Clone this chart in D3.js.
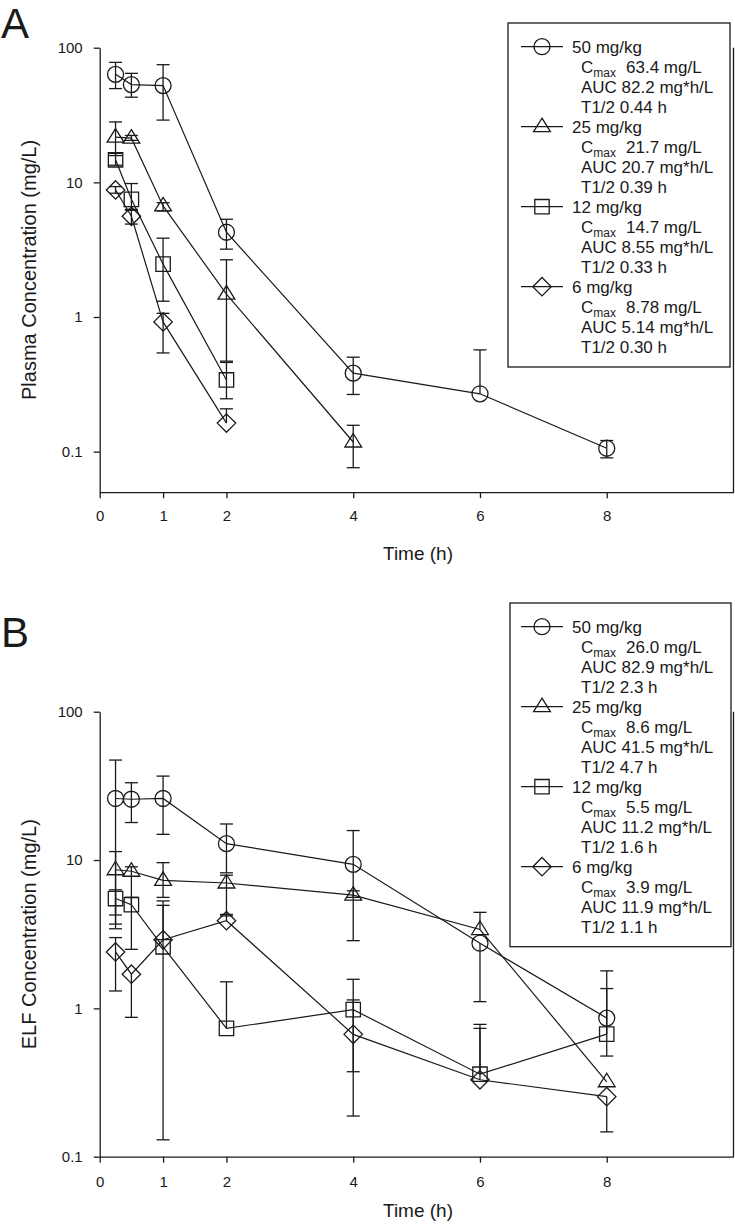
<!DOCTYPE html>
<html>
<head>
<meta charset="utf-8">
<script src="https://d3js.org/d3.v7.min.js"></script>
<style>
body { margin: 0; background: #fff; }
svg text { font-family: "Liberation Sans", Arial, sans-serif; fill: #1a1a1a; }
</style>
</head>
<body>
<div id="chart"></div>
<script>

var times = [0.25, 0.5, 1, 2, 4, 6, 8];
var xTicks = [0, 1, 2, 4, 6, 8];
var doses = ['50 mg/kg', '25 mg/kg', '12 mg/kg', '6 mg/kg'];
var shapes = ['circle', 'triangle', 'square', 'diamond'];

// panel A - plasma, one row per dose (50, 25, 12, 6 mg/kg)
var plasmaYTicks = [100, 10, 1, 0.1];
var plasmaMean = [
    [63.4, 53.2, 52.3, 4.26, 0.383, 0.269, 0.106],
    [21.7, 21.3, 6.68, 1.48, 0.118, null, null],
    [14.7, 7.48, 2.47, 0.341, null, null, null],
    [8.78, 5.6, 0.92, 0.163, null, null, null]
];
var plasmaHi = [
    [77.8, 64.5, 74.8, 5.32, 0.503, 0.57, 0.121],
    [28.1, 22.3, 7.06, 2.66, 0.157, null, null],
    [16.4, 9.8, 3.85, 0.46, null, null, null],
    [9.3, 6.3, 1.065, 0.208, null, null, null]
];
var plasmaLo = [
    [49.7, 42.9, 29.0, 3.19, 0.266, null, 0.090],
    [15.8, 20.5, 6.13, 0.47, 0.076, null, null],
    [13.4, 6.2, 1.31, 0.247, null, null, null],
    [8.3, 4.9, 0.541, null, null, null, null]
];
var plasmaCmax = ['63.4 mg/L', '21.7 mg/L', '14.7 mg/L', '8.78 mg/L'];
var plasmaAuc = ['82.2', '20.7', '8.55', '5.14'];
var plasmaHalf = ['0.44', '0.39', '0.33', '0.30'];

// panel B - ELF
var elfYTicks = [100, 10, 1, 0.1];
var elfMean = [
    [26.0, 25.7, 26.0, 12.9, 9.35, 2.75, 0.86],
    [8.6, 8.4, 7.3, 7.0, 5.8, 3.4, 0.32],
    [5.5, 5.0, 2.6, 0.733, 0.98, 0.36, 0.67],
    [2.4, 1.7, 2.9, 3.9, 0.668, 0.33, 0.254]
];
var elfHi = [
    [47.2, 33.2, 36.8, 17.5, 15.8, null, 1.79],
    [11.4, 9.0, 9.6, 7.9, 6.2, 4.44, null],
    [6.3, 5.6, 5.3, 1.51, 1.57, 0.78, 1.36],
    [3.0, null, 4.95, 4.3, 1.14, 0.733, null]
];
var elfLo = [
    [4.26, 17.9, 14.9, 8.2, 5.6, 1.11, 0.477],
    [3.7, 2.5, 5.6, 4.2, 2.86, null, null],
    [3.44, null, 0.13, null, 0.374, null, null],
    [1.31, 0.87, null, null, 0.188, null, 0.147]
];
var elfCmax = ['26.0 mg/L', '8.6 mg/L', '5.5 mg/L', '3.9 mg/L'];
var elfAuc = ['82.9', '41.5', '11.2', '11.9'];
var elfHalf = ['2.3', '4.7', '1.6', '1.1'];

var ink = '#1a1a1a';

var svg = d3.select('#chart')
    .append('svg')
    .attr('width', 735)
    .attr('height', 1231);

var panels = [
    {tag: 'A', tagY: 38, mean: plasmaMean, hi: plasmaHi, lo: plasmaLo, yTicks: plasmaYTicks,
     yDomain: [0.05, 100], yRange: [492.2, 47.7], yTitle: 'Plasma Concentration (mg/L)',
     tickPad: 12, titleY: 560, cmax: plasmaCmax, auc: plasmaAuc, half: plasmaHalf,
     box: [508, 23, 730, 367], row0: 46.7},
    {tag: 'B', tagY: 647, mean: elfMean, hi: elfHi, lo: elfLo, yTicks: elfYTicks,
     yDomain: [0.1, 100], yRange: [1156.7, 711.7], yTitle: 'ELF Concentration (mg/L)',
     tickPad: 13.5, titleY: 1217, cmax: elfCmax, auc: elfAuc, half: elfHalf,
     box: [510, 603, 731, 946.7], row0: 626.7}
];

function symbolPath(shape) {
    if (shape == 'circle') return 'M8,0A8,8 0 1,1 -8,0A8,8 0 1,1 8,0Z';
    if (shape == 'triangle') return 'M0,-8.5L8.4,5H-8.4Z';
    if (shape == 'square') return 'M-7.2,-7.2H7.2V7.2H-7.2Z';
    return 'M0,-9.2L9.2,0L0,9.2L-9.2,0Z';
}

panels.forEach(function(p) {
    var x = d3.scaleLinear().domain([0, 10]).range([99.7, 733.5]);
    var y = d3.scaleLog().domain(p.yDomain).range(p.yRange);
    var g = svg.append('g');

    // axes
    var xAxis = g.append('g')
        .attr('transform', `translate(0, ${p.yRange[0]})`)
        .call(d3.axisBottom(x).tickValues(xTicks).tickSizeInner(6).tickSizeOuter(0).tickPadding(p.tickPad));
    var yAxis = g.append('g')
        .attr('transform', `translate(${x(0)}, 0)`)
        .call(d3.axisLeft(y).tickValues(p.yTicks).tickFormat(d => d).tickSizeInner(6).tickSizeOuter(0).tickPadding(11));
    [xAxis, yAxis].forEach(function(a) {
        a.attr('font-size', 15).attr('font-family', '"Liberation Sans", Arial, sans-serif');
        a.selectAll('path, line').attr('stroke', ink).attr('stroke-width', 1.3);
    });

    // right frame line
    g.append('line')
        .attr('x1', x(10)).attr('x2', x(10))
        .attr('y1', p.yRange[1]).attr('y2', p.yRange[0])
        .attr('stroke', ink).attr('stroke-width', 1.3);

    // titles
    g.append('text')
        .attr('x', 418).attr('y', p.titleY)
        .attr('text-anchor', 'middle').attr('font-size', 19)
        .text('Time (h)');
    g.append('text')
        .attr('transform', `translate(36, ${(p.yRange[0] + p.yRange[1]) / 2}) rotate(-90)`)
        .attr('text-anchor', 'middle').attr('font-size', 20)
        .text(p.yTitle);
    g.append('text')
        .attr('x', 1).attr('y', p.tagY)
        .attr('font-size', 42)
        .text(p.tag);

    // series
    var line = d3.line().x(d => x(d.t)).y(d => y(d.v));
    doses.forEach(function(dose, s) {
        var pts = times.map(function(t, k) {
            return {t: t, v: p.mean[s][k], hi: p.hi[s][k], lo: p.lo[s][k]};
        }).filter(d => d.v != null);

        g.append('path')
            .attr('d', line(pts))
            .attr('fill', 'none')
            .attr('stroke', ink)
            .attr('stroke-width', 1.2);

        pts.forEach(function(d) {
            [d.hi, d.lo].forEach(function(e) {
                if (e == null) return;
                g.append('line')
                    .attr('x1', x(d.t)).attr('x2', x(d.t))
                    .attr('y1', y(d.v)).attr('y2', y(e))
                    .attr('stroke', ink).attr('stroke-width', 1.3);
                g.append('line')
                    .attr('x1', x(d.t) - 6.5).attr('x2', x(d.t) + 6.5)
                    .attr('y1', y(e)).attr('y2', y(e))
                    .attr('stroke', ink).attr('stroke-width', 1.3);
            });
        });

        g.selectAll('.sym' + s)
            .data(pts)
            .enter()
            .append('path')
            .attr('class', 'sym' + s)
            .attr('transform', d => `translate(${x(d.t)}, ${y(d.v)})`)
            .attr('d', symbolPath(shapes[s]))
            .attr('fill', 'none')
            .attr('stroke', ink)
            .attr('stroke-width', 1.3);
    });

    // legend
    var b = p.box;
    g.append('rect')
        .attr('x', b[0]).attr('y', b[1])
        .attr('width', b[2] - b[0]).attr('height', b[3] - b[1])
        .attr('fill', '#fff')
        .attr('stroke', ink).attr('stroke-width', 1.3);

    doses.forEach(function(dose, s) {
        var ry = p.row0 + 80 * s;
        g.append('line')
            .attr('x1', 521).attr('x2', 563)
            .attr('y1', ry).attr('y2', ry)
            .attr('stroke', ink).attr('stroke-width', 1.2);
        g.append('path')
            .attr('transform', `translate(542, ${ry})`)
            .attr('d', symbolPath(shapes[s]))
            .attr('fill', 'none')
            .attr('stroke', ink).attr('stroke-width', 1.3);
        g.append('text')
            .attr('x', 572).attr('y', ry + 6)
            .attr('font-size', 17)
            .text(dose);

        var c = g.append('text')
            .attr('x', 581).attr('y', ry + 26)
            .attr('font-size', 17);
        c.append('tspan').text('C');
        c.append('tspan').attr('font-size', 12).attr('dy', 4).text('max');
        g.append('text')
            .attr('x', 626).attr('y', ry + 26)
            .attr('font-size', 17)
            .text(p.cmax[s]);

        g.append('text')
            .attr('x', 581).attr('y', ry + 46)
            .attr('font-size', 17)
            .text('AUC ' + p.auc[s] + ' mg*h/L');
        g.append('text')
            .attr('x', 581).attr('y', ry + 66)
            .attr('font-size', 17)
            .text('T1/2 ' + p.half[s] + ' h');
    });
});

</script>
</body>
</html>
